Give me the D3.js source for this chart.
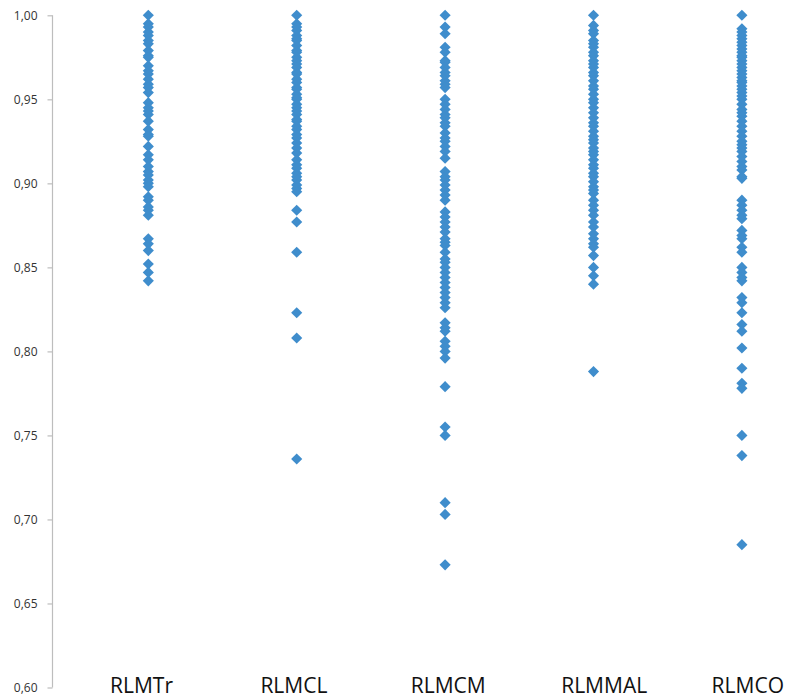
<!DOCTYPE html>
<html>
<head>
<meta charset="utf-8">
<script src="https://cdn.jsdelivr.net/npm/d3@7"></script>
<style>
  html, body { margin: 0; padding: 0; background: #fff; }
  svg { display: block; }
</style>
</head>
<body>
<svg id="chart" width="786" height="698"></svg>
<script>
// Model names along the bottom
const categories = ["RLMTr", "RLMCL", "RLMCM", "RLMMAL", "RLMCO"];

// Score values for each model
const rlmTr = [1.000, 0.995, 0.993, 0.990, 0.988, 0.985, 0.983, 0.979, 0.976, 0.975,
  0.970, 0.967, 0.965, 0.962, 0.959, 0.957, 0.954, 0.948, 0.945, 0.943, 0.941, 0.937,
  0.932, 0.929, 0.928, 0.922, 0.917, 0.914, 0.910, 0.907, 0.905, 0.902, 0.900, 0.898,
  0.892, 0.890, 0.886, 0.884, 0.881, 0.867, 0.864, 0.860, 0.852, 0.847, 0.842];

const rlmCL = [1.000, 0.995, 0.993, 0.991, 0.988, 0.986, 0.985, 0.982, 0.979, 0.978,
  0.975, 0.973, 0.971, 0.969, 0.966, 0.965, 0.962, 0.960, 0.957, 0.956, 0.953, 0.951,
  0.950, 0.947, 0.945, 0.943, 0.941, 0.938, 0.937, 0.934, 0.932, 0.929, 0.927, 0.924,
  0.921, 0.918, 0.914, 0.911, 0.909, 0.906, 0.904, 0.902, 0.899, 0.897, 0.895, 0.884,
  0.877, 0.859, 0.823, 0.808, 0.736];

const rlmCM = [1.000, 0.993, 0.989, 0.981, 0.978, 0.973, 0.972, 0.969, 0.966, 0.964,
  0.961, 0.959, 0.957, 0.950, 0.947, 0.944, 0.941, 0.939, 0.936, 0.934, 0.930, 0.927,
  0.925, 0.922, 0.919, 0.915, 0.907, 0.904, 0.902, 0.899, 0.896, 0.893, 0.890, 0.883,
  0.880, 0.877, 0.874, 0.871, 0.867, 0.865, 0.863, 0.859, 0.855, 0.853, 0.850, 0.847,
  0.844, 0.841, 0.838, 0.835, 0.832, 0.829, 0.826, 0.817, 0.814, 0.812, 0.806, 0.803,
  0.800, 0.796, 0.779, 0.755, 0.750, 0.710, 0.703, 0.673];

const rlmMAL = [1.000, 0.994, 0.991, 0.989, 0.985, 0.983, 0.981, 0.978, 0.976, 0.973,
  0.971, 0.969, 0.966, 0.964, 0.961, 0.958, 0.956, 0.953, 0.950, 0.948, 0.945, 0.942,
  0.939, 0.936, 0.934, 0.931, 0.928, 0.926, 0.924, 0.921, 0.919, 0.917, 0.914, 0.911,
  0.909, 0.906, 0.904, 0.901, 0.898, 0.896, 0.894, 0.890, 0.887, 0.884, 0.881, 0.877,
  0.874, 0.870, 0.867, 0.864, 0.862, 0.857, 0.850, 0.845, 0.840, 0.788];

const rlmCO = [1.000, 0.992, 0.990, 0.988, 0.986, 0.984, 0.982, 0.980, 0.978, 0.976,
  0.975, 0.973, 0.971, 0.969, 0.967, 0.965, 0.963, 0.961, 0.960, 0.958, 0.956, 0.954,
  0.952, 0.950, 0.947, 0.944, 0.942, 0.940, 0.937, 0.934, 0.931, 0.928, 0.925, 0.923,
  0.921, 0.919, 0.916, 0.913, 0.910, 0.908, 0.904, 0.903, 0.890, 0.887, 0.884, 0.881,
  0.879, 0.872, 0.869, 0.867, 0.862, 0.859, 0.850, 0.847, 0.844, 0.842, 0.832, 0.829,
  0.823, 0.816, 0.812, 0.802, 0.790, 0.781, 0.778, 0.750, 0.738, 0.685];

const seriesValues = [rlmTr, rlmCL, rlmCM, rlmMAL, rlmCO];

// Y axis tick values and their labels (decimal comma)
const yTicks = [0.60, 0.65, 0.70, 0.75, 0.80, 0.85, 0.90, 0.95, 1.00];
const yTickLabels = ["0,60", "0,65", "0,70", "0,75", "0,80", "0,85", "0,90", "0,95", "1,00"];

const svg = d3.select("#chart");
const axisX = 52.5;

const y = d3.scaleLinear().domain([0.60, 1.00]).range([687.5, 15.3]);
const x = d3.scalePoint().domain(categories).range([148.3, 741.9]);
const xLabel = d3.scalePoint().domain(categories).range([110, 711.6]);

// Vertical value axis
const yAxis = d3.axisLeft(y)
  .tickValues(yTicks)
  .tickFormat((d, i) => yTickLabels[i])
  .tickSize(5)
  .tickPadding(10);

const gAxis = svg.append("g")
  .attr("transform", `translate(${axisX},0)`)
  .call(yAxis);
gAxis.select(".domain")
  .attr("d", `M0,${y(1.0)}V${y(0.6)}`)
  .attr("stroke", "#bdbdbd")
  .attr("stroke-width", 1.2);
gAxis.selectAll(".tick line").attr("stroke", "#bdbdbd").attr("stroke-width", 1.2);
gAxis.selectAll(".tick text")
  .attr("font-family", "'Open Sans', sans-serif")
  .attr("font-size", 12)
  .attr("fill", "#333");

// Diamond markers
const diamond = d3.symbol().type(d3.symbolSquare).size(62);
const points = [];
seriesValues.forEach((vals, i) => vals.forEach(v => points.push({ cat: categories[i], v })));

svg.append("g")
  .selectAll("path")
  .data(points)
  .join("path")
  .attr("d", diamond)
  .attr("transform", d => `translate(${x(d.cat)},${y(d.v)}) rotate(45)`)
  .attr("fill", "#3f8dcc");

// Model names
svg.append("g")
  .selectAll("text")
  .data(categories)
  .join("text")
  .attr("x", d => xLabel(d))
  .attr("y", 693)
  .attr("font-family", "'Open Sans', sans-serif")
  .attr("font-size", 21)
  .attr("fill", "#111")
  .text(d => d);
</script>
</body>
</html>
